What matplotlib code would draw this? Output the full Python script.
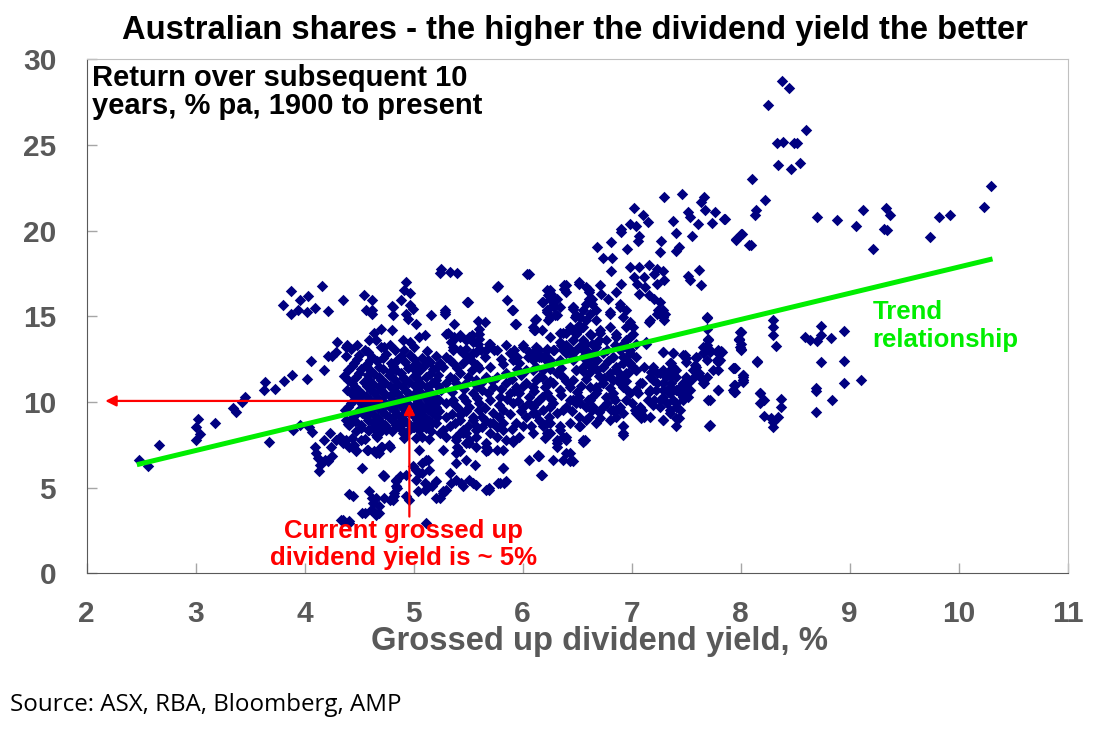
import matplotlib.pyplot as plt
import numpy as np

# (dividend yield %, subsequent 10y return % pa), grouped by region
low_yield = [
    (2.48, 6.59), (2.56, 6.24), (2.66, 7.46), (3.00, 7.79), (3.04, 8.14), (3.00, 8.55), (3.02, 9.03),
    (3.18, 8.76), (3.34, 9.65), (3.37, 9.44), (3.42, 9.98), (3.45, 10.27), (3.63, 10.68), (3.64, 11.18),
    (3.73, 10.77), (3.67, 7.66), (3.81, 11.24), (3.88, 11.57), (4.02, 11.36), (4.06, 12.40), (4.18, 11.86),
    (3.89, 8.37), (3.96, 8.66), (4.04, 8.56), (4.07, 8.24), (3.87, 16.45), (3.80, 15.64), (3.875, 15.16),
    (3.96, 15.93), (4.03, 16.18), (3.94, 15.39), (4.02, 15.23), (4.09, 15.47), (4.16, 16.74), (4.21, 15.31),
    (4.35, 15.93),
]

upper_45 = [
    (4.30, 13.5), (4.38, 13.2), (4.39, 13.3), (4.48, 13.3), (4.29, 12.9), (4.25, 12.7), (4.21, 12.7),
    (4.56, 15.35), (4.54, 16.22), (4.62, 15.93), (4.62, 15.16), (4.58, 12.93), (4.70, 14.28), (4.80, 14.19),
    (4.81, 15.06), (4.81, 15.54), (4.88, 15.93), (4.93, 16.99), (4.91, 16.51), (4.97, 16.38), (4.62, 15.35),
    (4.80, 15.58), (4.97, 15.64), (4.99, 15.45), (4.93, 15.16), (4.95, 14.87), (5.02, 14.57), (4.64, 14.0),
    (4.59, 13.6), (4.65, 13.6), (4.73, 13.22), (4.78, 13.31), (4.90, 13.60), (4.91, 13.02), (4.97, 13.51),
    (5.05, 13.80), (5.10, 13.90), (5.16, 15.06), (5.29, 15.35), (5.29, 15.16),
]

core_45 = [
    (4.42, 13.12), (4.55, 13.02), (4.70, 13.22), (4.83, 13.05), (5.00, 13.18), (5.12, 12.98),
    (4.38, 12.68), (4.50, 12.75), (4.62, 12.60), (4.75, 12.80), (4.88, 12.66), (4.97, 12.74), (5.08, 12.58),
    (5.20, 12.70), (4.45, 12.30), (4.57, 12.22), (4.66, 12.38), (4.79, 12.26), (4.92, 12.35), (5.03, 12.20),
    (5.15, 12.32), (5.24, 12.25), (4.40, 11.88), (4.52, 11.95), (4.61, 11.82), (4.72, 11.92), (4.84, 11.86),
    (4.95, 11.98), (5.06, 11.84), (5.18, 11.90), (4.36, 11.50), (4.47, 11.44), (4.58, 11.56), (4.68, 11.47),
    (4.77, 11.55), (4.90, 11.42), (5.00, 11.52), (5.11, 11.46), (5.22, 11.58), (4.43, 11.08), (4.54, 11.15),
    (4.63, 11.02), (4.74, 11.12), (4.86, 11.06), (4.96, 11.16), (5.07, 11.04), (5.17, 11.12), (4.39, 10.72),
    (4.50, 10.64), (4.60, 10.76), (4.70, 10.68), (4.81, 10.74), (4.93, 10.62), (5.04, 10.70), (5.14, 10.66),
    (5.24, 10.78), (4.46, 10.28), (4.56, 10.36), (4.67, 10.24), (4.78, 10.32), (4.88, 10.26), (4.99, 10.38),
    (5.10, 10.30), (5.20, 10.22), (4.42, 9.92), (4.53, 9.86), (4.64, 9.96), (4.75, 9.88), (4.85, 9.94),
    (4.96, 9.84), (5.06, 9.90), (5.16, 9.98), (4.37, 9.52), (4.49, 9.46), (4.60, 9.56), (4.71, 9.48),
    (4.82, 9.54), (4.92, 9.44), (5.03, 9.50), (5.13, 9.58), (5.23, 9.46), (4.44, 9.10), (4.56, 9.16),
    (4.67, 9.06), (4.77, 9.14), (4.89, 9.08), (5.00, 9.18), (5.11, 9.04), (5.21, 9.12), (4.40, 8.72),
    (4.52, 8.66), (4.63, 8.76), (4.74, 8.68), (4.86, 8.74), (4.97, 8.64), (5.08, 8.70), (4.47, 8.28),
    (4.58, 8.34), (4.69, 8.24), (4.80, 8.32), (4.94, 8.26), (5.05, 8.36), (5.16, 8.28), (4.43, 7.90),
    (4.55, 7.84), (4.66, 7.94), (4.91, 7.88), (5.02, 7.92), (5.14, 7.86),
]

core_fill = [
    (4.48, 12.50), (4.60, 12.44), (4.72, 12.55), (4.85, 12.46), (5.00, 12.52), (5.13, 12.44),
    (4.43, 12.08), (4.56, 12.12), (4.68, 12.04), (4.81, 12.10), (4.98, 12.06), (5.10, 12.14), (5.21, 12.02),
    (4.50, 11.70), (4.64, 11.66), (4.78, 11.74), (4.88, 11.68), (5.03, 11.72), (5.15, 11.66),
    (4.40, 11.30), (4.58, 11.34), (4.70, 11.26), (4.82, 11.32), (4.93, 11.28), (5.04, 11.36), (5.20, 11.30),
    (4.46, 10.90), (4.57, 10.94), (4.68, 10.86), (4.78, 10.92), (4.90, 10.88), (5.01, 10.94), (5.12, 10.86),
    (5.22, 10.96), (4.42, 10.50), (4.53, 10.46), (4.64, 10.54), (4.74, 10.48), (4.85, 10.52), (4.96, 10.44),
    (5.07, 10.50), (5.17, 10.46), (4.50, 10.10), (4.60, 10.14), (4.71, 10.06), (4.81, 10.12), (4.92, 10.06),
    (5.03, 10.14), (5.13, 10.08), (5.23, 10.12), (4.40, 9.70), (4.56, 9.74), (4.67, 9.66), (4.78, 9.72),
    (4.89, 9.68), (5.00, 9.74), (5.10, 9.66), (5.20, 9.72), (4.47, 9.30), (4.53, 9.34), (4.64, 9.26),
    (4.74, 9.32), (4.85, 9.28), (4.96, 9.34), (5.07, 9.28), (5.17, 9.34), (4.46, 8.90), (4.58, 8.94),
    (4.69, 8.86), (4.80, 8.92), (4.92, 8.88), (5.03, 8.94), (5.14, 8.86), (4.52, 8.50), (4.63, 8.46),
    (4.75, 8.54), (4.87, 8.48), (5.00, 8.52), (5.11, 8.46),
    (5.33, 12.45), (5.50, 12.55), (5.65, 12.60), (5.80, 12.50), (5.95, 12.65), (6.05, 12.60), (6.20, 12.75),
    (5.40, 12.0), (5.58, 12.15), (5.70, 12.05), (5.82, 12.20), (5.95, 11.95), (6.12, 12.05), (6.25, 11.90),
    (5.37, 11.35), (5.50, 11.45), (5.62, 11.10), (5.72, 11.25), (5.90, 11.35), (5.98, 11.55), (6.18, 11.45),
    (6.25, 11.20), (5.35, 10.60), (5.46, 10.75), (5.58, 10.95), (5.68, 10.55), (5.80, 10.75), (5.92, 10.65),
    (6.00, 10.95), (6.10, 10.65), (6.20, 10.85), (5.38, 9.85), (5.48, 10.05), (5.58, 10.25), (5.65, 9.65),
    (5.78, 9.85), (5.86, 10.20), (5.96, 10.05), (6.06, 9.95), (6.18, 10.30), (6.26, 10.15), (5.35, 9.30),
    (5.48, 9.45), (5.60, 9.55), (5.78, 9.10), (5.88, 9.30), (5.98, 9.45), (6.12, 9.30), (6.24, 9.10),
    (5.38, 8.75), (5.50, 8.60), (5.66, 8.90), (5.76, 8.55), (5.90, 8.45), (6.08, 8.60), (6.18, 8.80),
    (6.40, 13.30), (6.55, 13.40), (6.70, 13.60), (6.85, 13.30), (6.95, 13.20), (6.45, 12.90), (6.62, 12.55),
    (6.78, 12.40), (6.95, 12.50), (6.35, 12.00), (6.55, 11.80), (6.70, 11.50), (6.88, 11.70), (7.00, 12.10),
    (6.40, 11.20), (6.58, 11.35), (6.75, 11.40), (6.95, 11.20), (6.35, 10.40), (6.50, 10.60), (6.62, 10.90),
    (6.80, 10.80), (6.95, 10.75), (6.45, 9.50), (6.70, 9.40), (6.85, 10.10), (7.00, 9.95),
]

lower_45 = [
    (4.09, 7.40), (4.10, 7.05), (4.12, 6.73), (4.14, 6.34), (4.13, 5.95), (4.21, 6.53), (4.18, 7.79),
    (4.23, 8.18), (4.32, 7.98), (4.38, 7.79), (4.41, 8.66), (4.38, 8.95), (4.45, 7.50), (4.47, 7.11),
    (4.53, 6.15), (4.57, 7.21), (4.65, 7.02), (4.70, 7.40), (4.77, 7.50), (4.52, 7.79), (4.59, 8.37),
    (4.65, 8.08), (4.70, 8.56), (4.72, 5.76), (4.84, 5.47), (4.85, 4.98), (4.93, 5.76), (4.41, 4.63),
    (4.44, 4.49), (4.59, 4.79), (4.62, 4.40), (4.63, 4.11), (4.61, 3.72), (4.65, 3.43), (4.53, 3.53),
    (4.73, 4.40), (4.82, 4.49), (4.35, 3.14), (4.41, 3.04), (4.96, 4.30), (5.04, 4.79), (4.19, 6.63),
    (4.25, 6.82), (4.24, 7.40), (4.29, 7.79), (4.35, 7.60), (4.41, 7.40), (4.47, 7.21), (4.58, 7.21),
    (4.71, 7.40), (4.78, 7.40), (4.81, 9.15), (4.90, 8.76), (4.99, 8.56), (5.08, 7.98), (5.05, 7.21),
    (5.11, 6.63), (5.08, 5.85), (4.99, 6.24), (5.02, 5.47), (4.87, 5.66), (4.84, 5.08), (4.82, 4.69),
    (4.73, 5.66), (4.78, 4.30), (4.68, 3.91), (4.62, 3.72), (4.55, 3.53), (4.33, 3.14), (4.41, 2.95),
    (5.11, 2.95), (4.64, 7.11), (4.68, 7.02), (4.73, 5.70), (4.84, 5.37), (4.81, 4.30), (4.65, 4.40),
    (4.68, 3.53),
]

lower_56 = [
    (5.10, 4.88), (5.17, 5.08), (5.20, 4.40), (5.27, 4.69), (5.33, 5.85), (5.30, 4.88), (5.39, 5.47),
    (5.45, 5.08), (5.54, 5.27), (5.66, 4.88), (5.69, 4.88), (5.79, 5.27), (5.85, 5.37), (5.82, 6.15),
    (5.91, 7.69), (5.76, 7.21), (5.66, 7.40), (5.57, 7.98), (5.48, 8.18), (5.39, 7.79), (5.39, 7.02),
    (5.48, 6.63), (5.56, 6.34), (5.39, 6.44), (5.27, 7.21), (5.24, 8.18), (5.20, 8.76), (5.30, 9.15),
    (5.42, 9.24), (5.54, 8.95), (5.63, 8.56), (5.73, 8.76), (5.82, 8.37), (6.06, 6.63), (6.14, 6.82),
    (6.17, 5.76), (6.28, 6.63), (4.93, 4.50), (5.02, 6.05), (5.05, 5.85), (5.08, 6.43), (5.13, 6.63),
    (5.14, 6.05), (5.10, 5.27), (5.13, 5.08), (5.20, 5.37), (5.27, 4.79), (5.24, 4.40), (5.34, 5.27),
    (5.43, 5.27), (5.51, 5.47), (5.57, 5.17), (5.69, 4.98), (5.77, 5.27), (5.83, 5.27), (5.82, 6.14),
    (5.68, 7.21), (5.82, 7.21), (6.14, 6.92), (6.43, 7.02), (6.37, 6.63), (4.65, 8.57), (4.75, 8.37),
    (4.84, 8.66), (4.90, 8.18), (5.05, 8.57), (5.17, 8.76), (5.27, 8.37), (5.39, 7.98), (5.45, 8.18),
    (5.51, 7.79), (5.57, 8.57), (5.70, 8.18), (5.91, 7.79), (6.00, 8.57), (6.19, 8.57), (6.25, 8.18),
    (6.31, 7.79), (6.40, 7.98), (5.42, 7.11), (5.40, 7.40), (5.51, 7.60), (5.66, 7.11),
]

core_56 = [
    (5.30, 13.99), (5.36, 13.60), (5.42, 13.80), (5.48, 13.60), (5.53, 13.90), (5.60, 13.99), (5.59, 13.41),
    (5.70, 13.41), (5.74, 13.02), (5.62, 13.02), (5.54, 12.83), (5.45, 12.83), (5.36, 13.02), (5.30, 12.63),
    (5.27, 12.05), (5.36, 12.25), (5.45, 12.25), (5.54, 12.35), (5.60, 11.96), (5.53, 11.86), (5.42, 11.67),
    (5.33, 11.47), (5.30, 11.09), (5.25, 10.70), (5.39, 11.09), (5.48, 11.09), (5.57, 11.28), (5.66, 11.47),
    (5.76, 11.47), (5.85, 11.67), (5.91, 12.44), (5.88, 12.83), (6.00, 13.22), (6.12, 13.22), (6.15, 12.63),
    (6.09, 12.44), (6.22, 13.02), (6.25, 12.44), (6.19, 11.86), (6.03, 11.86), (5.97, 12.25), (6.03, 11.09),
    (6.12, 11.28), (5.94, 10.89), (5.85, 11.09), (5.73, 10.89), (5.63, 10.70), (5.54, 10.50), (5.45, 10.31),
    (5.36, 10.12), (5.30, 9.92), (5.42, 9.54), (5.51, 9.73), (5.60, 9.92), (5.70, 10.12), (5.79, 10.31),
    (5.88, 10.50), (5.97, 10.50), (6.06, 10.31), (6.15, 10.12), (6.22, 10.50), (6.28, 11.09), (6.34, 10.70),
    (6.28, 9.92), (6.19, 9.54), (6.09, 9.73), (6.00, 9.73), (5.91, 9.92), (5.82, 9.54), (5.73, 9.34),
    (5.63, 9.15), (5.54, 9.15), (5.42, 8.95), (5.33, 8.57), (5.30, 7.98), (5.45, 8.37), (5.57, 8.37),
    (5.70, 8.76), (5.82, 8.76), (5.94, 8.76), (6.03, 9.15), (6.15, 8.95), (6.25, 8.76), (6.31, 9.34),
    (6.40, 9.73), (6.46, 10.12), (6.52, 10.31), (6.58, 9.73), (6.64, 10.31), (6.43, 8.76), (6.52, 9.15),
    (6.34, 8.37), (6.22, 8.18), (6.09, 8.18), (5.97, 7.98), (5.85, 7.79), (5.76, 7.98), (5.66, 7.60),
    (5.57, 7.40), (5.48, 7.60), (5.42, 8.18), (6.31, 7.60), (6.40, 7.79), (6.55, 7.79), (6.64, 9.54),
    (6.67, 8.76),
]

upper_56 = [
    (5.24, 17.5), (5.33, 17.6), (5.40, 17.55), (6.04, 17.48), (5.77, 16.74), (6.38, 16.80), (6.22, 16.51),
    (6.26, 16.32), (6.31, 16.03), (6.18, 15.83), (6.29, 15.54), (6.22, 15.25), (6.30, 15.06), (6.23, 14.77),
    (6.11, 14.81), (6.11, 14.19), (5.94, 14.57), (5.91, 15.35), (5.86, 15.93), (5.49, 15.83), (5.37, 14.57),
    (5.59, 14.73), (5.65, 14.67), (5.60, 14.28), (5.31, 14.0), (5.34, 13.51), (5.37, 13.80), (5.42, 13.90),
    (5.51, 13.80), (5.54, 13.51), (5.60, 13.70), (5.69, 13.41), (5.76, 13.02), (5.66, 13.02), (5.57, 12.92),
    (5.48, 13.12), (5.42, 13.02), (5.36, 13.22), (5.85, 13.31), (5.92, 13.02), (6.0, 13.31), (6.06, 12.92),
    (6.12, 13.02), (6.22, 13.12), (6.17, 12.63), (6.29, 13.02), (6.35, 13.31), (6.37, 14.0), (6.40, 12.83),
    (5.25, 17.77), (5.76, 16.70), (5.50, 15.83), (5.90, 15.35), (5.29, 15.25), (5.93, 14.53), (6.12, 14.83),
    (6.10, 14.19), (6.25, 16.03), (6.40, 16.41), (6.52, 16.90), (6.58, 16.70), (6.61, 16.41), (6.19, 15.83),
    (6.22, 15.35), (6.31, 15.06), (6.28, 15.64), (6.46, 15.45), (6.49, 15.06), (6.58, 15.74), (6.64, 16.03),
    (6.67, 15.35), (6.58, 14.77), (6.52, 14.48), (6.46, 14.19), (6.40, 14.0), (6.34, 13.51), (6.46, 13.60),
    (6.55, 13.60), (6.63, 13.90), (6.67, 13.22), (6.52, 13.22), (6.44, 13.02), (6.37, 13.02), (6.58, 13.02),
    (6.66, 12.44), (6.61, 12.15),
]

upper_67 = [
    (6.06, 17.48), (6.52, 16.99), (6.61, 16.51), (6.40, 16.80), (6.38, 16.61), (6.25, 16.51), (6.23, 16.22),
    (6.28, 16.03), (6.22, 15.35), (6.25, 14.96), (6.34, 15.54), (6.46, 15.54), (6.48, 14.96), (6.55, 15.35),
    (6.61, 16.03), (6.64, 15.74), (6.71, 16.80), (6.72, 16.32), (6.78, 16.03), (6.80, 15.25), (6.86, 16.41),
    (6.90, 16.90), (6.89, 15.74), (6.95, 15.35), (6.98, 14.67), (7.01, 14.38), (6.98, 13.80), (6.92, 13.41),
    (7.29, 14.96), (7.30, 14.77), (6.98, 17.87), (7.07, 17.87), (7.16, 17.97), (7.23, 17.77), (7.29, 17.67),
    (7.20, 17.48), (7.11, 17.29), (7.02, 17.29), (7.05, 16.9), (7.12, 16.7), (7.23, 16.9), (7.30, 17.09),
    (7.07, 16.32), (7.16, 16.22), (7.20, 16.03), (7.26, 15.84), (7.29, 15.35), (7.23, 15.16), (7.16, 14.67),
    (7.52, 17.33), (7.53, 17.09), (7.62, 17.71), (7.64, 16.8), (7.69, 14.96), (7.70, 13.70),
]

top_67 = [
    (7.30, 21.94), (7.46, 22.13), (7.66, 21.98), (7.64, 21.70), (7.02, 21.32), (7.10, 20.93), (7.15, 20.48),
    (6.98, 20.39), (7.04, 20.29), (6.90, 20.10), (6.90, 19.90), (7.07, 19.71), (7.06, 19.42), (6.68, 19.07),
    (6.81, 19.32), (6.74, 18.41), (6.82, 18.41), (6.96, 18.94), (6.81, 17.67), (7.52, 21.06), (7.53, 20.77),
    (7.67, 21.2), (7.76, 21.06), (7.85, 20.68), (7.74, 20.43), (7.61, 20.39), (7.38, 20.54), (7.41, 19.84),
    (7.55, 19.71), (7.27, 19.42), (7.26, 18.74), (7.41, 18.84), (7.43, 19.03), (7.96, 19.52), (8.0, 19.81),
    (8.08, 19.19),
]

mid_67 = [
    (6.09, 14.38), (6.18, 14.19), (6.25, 13.80), (6.34, 14.0), (6.43, 14.38), (6.52, 14.19), (6.46, 13.60),
    (6.37, 13.22), (6.28, 13.02), (6.15, 13.02), (6.09, 12.63), (6.21, 12.44), (6.34, 12.44), (6.46, 12.63),
    (6.55, 13.02), (6.64, 13.41), (6.71, 14.0), (6.80, 14.38), (6.86, 13.80), (6.77, 13.02), (6.68, 12.44),
    (6.59, 12.25), (6.83, 12.63), (6.92, 12.63), (6.49, 11.86), (6.61, 11.67), (6.68, 11.86), (6.74, 12.05),
    (6.98, 13.02), (7.13, 13.41), (7.04, 12.63), (7.11, 12.05), (6.461, 15.54), (6.522, 14.96),
    (6.614, 15.15), (6.675, 14.77), (6.553, 14.38), (6.491, 13.99), (6.614, 13.99), (6.706, 14.19),
    (6.798, 15.15), (6.89, 15.54), (6.92, 14.96), (6.951, 14.38), (6.859, 13.99), (6.767, 13.60),
    (6.675, 13.41), (6.583, 13.41), (6.491, 13.02), (6.461, 12.44), (6.553, 12.64), (6.644, 12.83),
    (6.736, 12.83), (6.828, 12.64), (6.89, 13.02), (6.951, 13.60), (7.012, 13.99), (7.043, 13.41),
    (6.981, 12.83), (6.92, 12.25), (6.859, 12.05), (6.798, 11.67), (6.736, 12.05), (6.644, 12.05),
    (6.553, 12.05), (6.491, 11.86), (6.461, 11.28), (6.537, 10.93), (6.675, 10.89), (6.736, 11.09),
    (6.828, 11.28), (6.89, 11.47), (6.966, 11.67), (7.043, 11.86), (7.073, 11.09), (7.043, 10.70),
    (6.981, 10.50), (6.92, 10.89), (6.828, 10.50), (6.767, 10.31), (6.675, 10.50), (6.614, 10.12),
    (6.522, 9.92), (6.461, 10.12), (6.644, 9.73), (6.736, 9.73), (6.828, 9.53), (6.89, 9.73), (6.951, 10.12),
    (7.073, 9.34), (6.92, 9.34), (6.859, 9.15), (6.798, 8.95), (6.706, 9.05), (6.583, 8.95), (6.522, 8.57),
    (6.553, 7.69), (6.92, 8.57), (6.92, 8.08), (6.461, 6.53),
]

lower_67 = [
    (6.09, 11.86), (6.15, 11.47), (6.09, 10.89), (6.22, 11.09), (6.31, 11.67), (6.37, 11.47), (6.34, 10.70),
    (6.43, 10.89), (6.43, 10.12), (6.49, 9.92), (6.37, 9.53), (6.25, 9.73), (6.12, 9.92), (6.09, 9.34),
    (6.22, 8.76), (6.34, 8.57), (6.37, 7.98), (6.31, 7.40), (6.40, 7.02), (6.43, 6.53), (6.20, 7.89),
    (6.15, 6.83), (6.18, 5.76), (6.57, 7.79), (6.52, 8.57), (6.61, 9.14), (6.60, 10.12), (6.68, 10.70),
    (6.74, 11.09), (6.80, 11.47), (6.86, 11.86), (6.92, 12.25), (6.89, 11.09), (6.83, 10.31), (6.77, 9.92),
    (6.81, 9.53), (6.86, 9.53), (6.92, 8.57), (6.92, 8.18), (6.95, 11.67), (6.98, 12.25), (7.04, 11.86),
]

cluster_7 = [
    (7.29, 12.92), (7.38, 12.83), (7.47, 12.73), (7.50, 12.34), (7.59, 12.63), (7.66, 12.92), (7.69, 13.31),
    (7.72, 13.02), (7.78, 12.92), (7.82, 12.92), (7.79, 12.34), (7.36, 12.3), (7.36, 11.9), (7.36, 11.5),
    (7.36, 11.1), (7.29, 11.86), (7.23, 11.67), (7.17, 11.47), (7.23, 11.09), (7.29, 10.70), (7.35, 10.51),
    (7.41, 10.70), (7.47, 11.09), (7.50, 11.47), (7.56, 11.86), (7.59, 12.05), (7.62, 11.67), (7.69, 11.47),
    (7.75, 11.86), (7.66, 11.09), (7.53, 10.70), (7.47, 10.31), (7.41, 9.92), (7.32, 9.92), (7.26, 10.12),
    (7.20, 10.12), (7.16, 10.6), (7.09, 11.09), (7.06, 10.51), (7.09, 9.53), (7.11, 9.14), (7.17, 9.14),
    (7.29, 8.95), (7.35, 9.53), (7.43, 9.06), (7.41, 8.57), (7.686, 14.92), (7.686, 14.28), (8.0, 14.09),
    (7.98, 13.60), (8.0, 13.06), (7.70, 13.64), (7.655, 13.22), (7.717, 12.93), (7.793, 13.02),
    (7.824, 12.93), (7.655, 12.83), (7.686, 12.44), (7.778, 12.44), (7.793, 11.86), (7.594, 12.54),
    (7.579, 12.15), (7.594, 11.76), (7.625, 11.47), (7.655, 11.09), (7.564, 11.38), (7.518, 11.09),
    (7.487, 10.70), (7.518, 10.31), (7.472, 10.12), (7.441, 10.50), (7.441, 10.89), (7.41, 11.47),
    (7.349, 11.76), (7.349, 12.25), (7.38, 12.05), (7.41, 11.86), (7.318, 11.47), (7.288, 11.09),
    (7.349, 10.89), (7.349, 10.50), (7.38, 10.12), (7.41, 9.73), (7.441, 9.53), (7.288, 10.31),
    (7.227, 10.70), (7.196, 11.28), (7.181, 11.76), (7.196, 12.05), (7.257, 11.67), (7.165, 10.70),
    (7.15, 10.12), (7.196, 9.83), (7.257, 9.73), (7.288, 8.95), (7.349, 9.34), (7.41, 9.05), (7.073, 9.73),
    (7.043, 9.34), (7.089, 9.05), (7.027, 9.53), (7.931, 11.96), (8.023, 11.47), (8.023, 11.18),
    (7.947, 10.99), (7.947, 10.60), (7.793, 10.70), (7.701, 10.12), (7.711, 8.60), (7.288, 12.93),
    (7.38, 12.83), (7.487, 12.73), (7.502, 12.54), (7.165, 14.77), (7.242, 15.35), (7.288, 14.96),
    (7.303, 15.15), (7.135, 13.51), (7.99, 14.09), (7.98, 13.70), (7.99, 13.22), (8.15, 12.34), (8.18, 10.5),
    (8.18, 9.92), (7.95, 11.96), (8.02, 11.57), (8.02, 11.28), (7.93, 10.70), (7.79, 10.70), (7.72, 10.12),
    (7.72, 8.66),
]

high_yield = [
    (8.381, 28.72), (8.443, 28.33), (8.253, 27.31), (8.602, 25.89), (8.33, 25.12), (8.39, 25.15),
    (8.49, 25.14), (8.52, 25.14), (8.34, 23.84), (8.46, 23.57), (8.54, 23.95), (8.10, 23.0), (8.22, 21.78),
    (8.14, 21.20), (8.13, 20.93), (7.86, 20.68), (8.01, 19.79), (7.96, 19.46), (8.09, 19.17), (8.70, 20.80),
    (8.88, 20.62), (9.06, 20.29), (9.12, 21.22), (9.33, 21.32), (9.37, 20.93), (9.31, 20.10), (9.34, 20.02),
    (9.21, 18.94), (9.74, 19.65), (9.82, 20.80), (9.92, 20.93), (10.23, 21.36), (10.30, 22.58),
    (8.30, 14.77), (8.30, 14.38), (8.30, 13.90), (8.32, 13.26), (8.00, 14.09), (7.98, 13.70), (8.00, 13.41),
    (8.00, 13.08), (7.82, 12.97), (7.81, 12.44), (8.15, 12.38), (7.94, 11.96), (8.02, 11.57), (8.02, 11.28),
    (7.94, 10.99), (7.94, 10.60), (8.18, 10.51), (8.21, 10.12), (8.37, 10.17), (8.37, 9.73), (8.21, 9.2),
    (8.28, 9.05), (8.34, 9.1), (8.30, 8.85), (8.30, 8.56), (8.59, 13.80), (8.64, 13.64), (8.70, 13.55),
    (8.74, 14.44), (8.74, 13.90), (8.83, 13.74), (8.95, 14.17), (8.74, 12.31), (8.95, 12.38), (8.69, 10.80),
    (8.69, 10.66), (8.95, 11.09), (9.10, 11.26), (8.84, 10.12), (8.69, 9.44),
]

trend_x = [2.46, 10.31]
trend_y = [6.34, 18.35]

x_ticks = [2, 3, 4, 5, 6, 7, 8, 9, 10, 11]
y_ticks = [0, 5, 10, 15, 20, 25, 30]

groups = [low_yield, upper_45, core_45, core_fill, lower_45, lower_56, core_56, upper_56,
          upper_67, top_67, mid_67, lower_67, cluster_7, high_yield]
pts = np.array([p for g in groups for p in g])

gray = '#595959'
fig = plt.figure(figsize=(11.09, 7.32), dpi=100)
ax = fig.add_axes([0.0782, 0.2168, 0.8846, 0.7022])

ax.scatter(pts[:, 0], pts[:, 1], marker='D', s=34, color='#000080', linewidths=0, zorder=2)
ax.plot(trend_x, trend_y, color='#00ee00', lw=3.6, zorder=3, solid_capstyle='butt')

# red arrows: current yield ~5% implies ~10% pa
ax.annotate('', xy=(2.17, 10.06), xytext=(4.71, 10.06),
            arrowprops=dict(arrowstyle='-|>', color='red', lw=1.6, mutation_scale=16,
                            shrinkA=0, shrinkB=0), zorder=4)
ax.annotate('', xy=(4.96, 9.9), xytext=(4.96, 3.31),
            arrowprops=dict(arrowstyle='-|>', color='red', lw=1.6, mutation_scale=16,
                            shrinkA=0, shrinkB=0), zorder=4)

ax.text(4.91, 1.68, 'Current grossed up\ndividend yield is ~ 5%', color='red',
        fontsize=18.5, fontweight='bold', ha='center', va='center', linespacing=1.12,
        family='Liberation Sans')
ax.text(9.21, 14.44, 'Trend\nrelationship', color='#00ee00', fontsize=18.5,
        fontweight='bold', ha='left', va='center', linespacing=1.2, family='Liberation Sans')

ax.set_xlim(2, 11)
ax.set_ylim(0, 30)
ax.set_xticks(x_ticks)
ax.set_yticks(y_ticks)
ax.tick_params(direction='in', length=7, width=1, color='#a6a6a6',
               labelsize=21.5, labelcolor=gray)
ax.tick_params(axis='x', pad=19)
ax.tick_params(axis='y', pad=22)
for lab in ax.get_xticklabels() + ax.get_yticklabels():
    lab.set_fontweight('bold')
    lab.set_family('Liberation Sans')

ax.spines['left'].set_color(gray)
ax.spines['bottom'].set_color(gray)
ax.spines['top'].set_color('#c0c0c0')
ax.spines['right'].set_color('#c0c0c0')

fig.text(0.5185, 0.958, 'Australian shares - the higher the dividend yield the better',
         ha='center', va='center', fontsize=23.6, fontweight='bold', family='Liberation Sans')
fig.text(0.083, 0.913, 'Return over subsequent 10\nyears, % pa, 1900 to present',
         ha='left', va='top', fontsize=21, fontweight='bold', linespacing=1.0,
         family='Liberation Sans')
fig.text(0.541, 0.124, 'Grossed up dividend yield, %', ha='center', va='center',
         fontsize=23.6, fontweight='bold', color=gray, family='Liberation Sans')
fig.text(0.009, 0.037, 'Source: ASX, RBA, Bloomberg, AMP', ha='left', va='center',
         fontsize=17.4, family='Open Sans')

fig.savefig('out.png', dpi=100)
